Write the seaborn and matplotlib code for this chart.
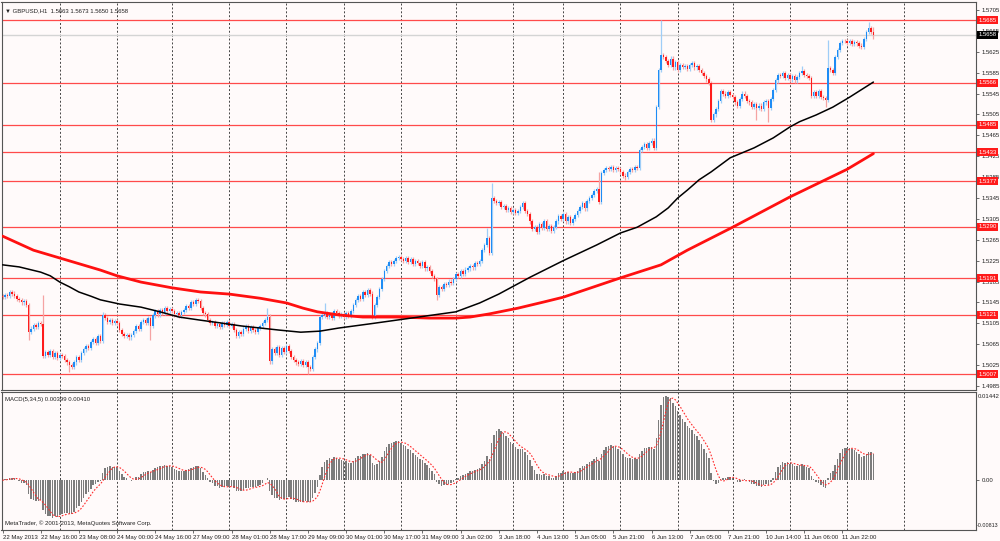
import numpy as np
import pandas as pd
import matplotlib
matplotlib.use("Agg")
import matplotlib.pyplot as plt
import seaborn as sns

# ---------------- data (prices in pips above 1.5000) ----------------
open0 = 158
closes_22may = [155, 160, 158, 165, 162, 158, 152, 150, 145, 148, 140, 88,
                95, 102, 98, 105, 103, 42, 50, 45, 52, 40, 48, 38, 45, 42,
                35, 30, 25, 22, 30, 40, 35, 48, 55, 62, 58, 70, 75, 68, 80, 72]
closes_23may = [121, 115, 108, 112, 105, 110, 106, 92, 85, 80, 83, 78, 82,
                90, 100, 95, 108, 112, 105, 115, 100, 120, 128, 122, 130, 125,
                135, 128, 132]
closes_24may = [128, 122, 125, 120, 126, 130, 138, 135, 145, 142, 150, 148,
                135, 125, 122, 112, 105, 108, 100, 104, 98, 106, 102, 108, 100,
                104, 92, 80, 88, 85, 95, 100, 90, 98, 92, 88, 96, 100, 105,
                112, 118, 32, 55, 48, 60, 45, 58, 50, 62, 52, 40, 35, 30, 28,
                32, 25, 30, 22, 18, 40, 55, 68, 117, 120, 125, 118, 122, 115,
                128, 124, 120]
closes_29may = [122, 118, 125, 120, 128, 140, 150, 158, 152, 165, 160, 168,
                162, 117, 140, 155, 170, 190, 205, 215, 222, 218, 225, 230,
                232, 228, 225, 230, 222, 228, 218, 224, 220, 215, 222, 210,
                212, 205, 195, 190, 160, 175, 170, 180, 178, 185, 182, 190,
                200, 195, 205, 200, 208, 210, 215, 212, 220, 218, 225, 245,
                255, 268, 240]
closes_3jun = [345, 340, 335, 338, 328, 330, 322, 325, 318, 322, 316, 320,
               328, 335, 320, 315, 300, 285, 290, 280, 295, 288, 300, 285,
               292, 282, 290, 300, 310, 305, 315, 300, 308, 298, 305, 312,
               320, 328, 335, 325, 340, 345, 350, 358, 362, 338]
closes_5jun = [393, 398, 402, 400, 404, 398, 402, 400, 395, 388, 385, 395,
               400, 398, 405, 402, 437, 442, 448, 440, 450, 455, 440, 519,
               590, 619, 615, 608, 600, 612, 595, 605, 590, 600, 596, 598,
               592, 600, 604, 595, 598, 590, 585, 578, 572, 565]
closes_7jun = [494, 505, 515, 530, 550, 545, 540, 548, 542, 538, 528, 522,
               535, 545, 540, 530, 528, 520, 525, 518, 522, 515, 528, 530,
               518, 535, 552, 570, 580, 578, 584, 575, 580, 572, 578, 570,
               576, 585, 588, 580, 578, 575, 540, 548, 540, 550, 538, 536,
               533, 594, 590, 584, 615, 628, 642, 646, 645, 642, 646, 640,
               644, 641, 637, 634, 650, 663, 670, 663, 658]

spike_highs = {17: 159, 42: 127, 111: 134, 135: 144, 203: 288, 205: 374,
               250: 395, 276: 685, 335: 598, 346: 647, 363: 682, 365: 673}
spike_lows = {11: 73, 28: 12, 62: 73, 98: 77, 128: 7, 182: 150, 261: 379,
              297: 490, 316: 494, 321: 491, 345: 519, 365: 650}

black_ma_bars = [0, 7, 16, 20, 24, 28, 32, 37, 41, 45, 49, 58, 66, 74, 83, 91,
                 100, 108, 116, 125, 133, 141, 154, 165, 179, 190, 200, 208,
                 221, 235, 249, 259, 266, 274, 279, 283, 287, 292, 297, 305,
                 315, 323, 330, 334, 341, 348, 355, 365]
black_ma_pips = [217, 213, 203, 196, 184, 175, 165, 157, 150, 146, 142, 136,
                 127, 117, 111, 106, 100, 96, 92, 88, 90, 96, 104, 111, 120,
                 127, 144, 161, 193, 225, 255, 278, 289, 309, 326, 345, 360,
                 380, 395, 422, 441, 460, 481, 491, 504, 519, 538, 567]
red_ma_bars = [0, 13, 27, 41, 48, 58, 71, 83, 95, 108, 119, 126, 132, 141,
               151, 165, 179, 190, 196, 204, 216, 227, 235, 259, 276, 287,
               306, 330, 354, 365]
red_ma_pips = [272, 245, 226, 207, 196, 184, 173, 165, 161, 153, 144, 134,
               127, 121, 117, 117, 115, 115, 117, 123, 134, 146, 155, 192,
               217, 245, 289, 347, 400, 430]

levels = [1.5685, 1.5566, 1.5485, 1.5433, 1.5377, 1.5290, 1.5191, 1.5121, 1.5007]
current_price = 1.5658

time_label_bars = list(range(0, 353, 16))
time_labels = ["22 May 2013", "22 May 16:00", "23 May 08:00", "24 May 00:00",
               "24 May 16:00", "27 May 09:00", "28 May 01:00", "28 May 17:00",
               "29 May 09:00", "30 May 01:00", "30 May 17:00", "31 May 09:00",
               "3 Jun 02:00", "3 Jun 18:00", "4 Jun 13:00", "5 Jun 05:00",
               "5 Jun 21:00", "6 Jun 13:00", "7 Jun 05:00", "7 Jun 21:00",
               "10 Jun 14:00", "11 Jun 06:00", "11 Jun 22:00"]
day_grid_bars = [24, 48, 71, 95, 119, 143, 167, 190, 214, 235, 259, 283, 306,
                 330, 354, 378]
price_ticks = [1.4985 + 0.004 * k for k in range(19)]
macd_top, macd_bottom = 0.01442, -0.00813

# ---------------- derived ----------------
pip = 1e-4
closes_pips = (closes_22may + closes_23may + closes_24may + closes_29may +
               closes_3jun + closes_5jun + closes_7jun)
closes = 1.5 + np.array(closes_pips) * pip
n = len(closes)
idx = np.arange(n)
opens = np.r_[1.5 + open0 * pip, closes[:-1]]
wick = 4 * pip
hi = np.maximum(opens, closes) + wick
lo = np.minimum(opens, closes) - wick
for k, v in spike_highs.items():
    if k < n:
        hi[k] = max(1.5 + v * pip, max(opens[k], closes[k]))
for k, v in spike_lows.items():
    if k < n:
        lo[k] = min(1.5 + v * pip, min(opens[k], closes[k]))
up = closes >= opens

s = pd.Series(closes)
macd = (s.ewm(span=5, adjust=False).mean() - s.ewm(span=34, adjust=False).mean()).values
signal = pd.Series(macd).rolling(5, min_periods=1).mean().values

# ---------------- style ----------------
sns.set_theme(style="white")
bg = "#fffafa"
plt.rcParams["font.family"] = ["Liberation Sans", "DejaVu Sans"]
plt.rcParams["axes.edgecolor"] = "#555555"
plt.rcParams["axes.linewidth"] = 0.8

fig = plt.figure(figsize=(10, 5.41), dpi=100, facecolor=bg)
W, H = 1000.0, 541.0
left, right = 1.5 / W, 976 / W
ax = fig.add_axes([left, 1 - 390 / H, right - left, 388 / H], facecolor=bg)
ax2 = fig.add_axes([left, 1 - 530 / H, right - left, 138 / H], facecolor=bg)

xlim = (-0.42, 408)
fs = 4.3
tcol = "#222222"

# --- main panel ---
for b in day_grid_bars:
    ax.axvline(b, color="#444444", lw=0.7, ls=(0, (2, 2)), zorder=0.5)
    ax2.axvline(b, color="#444444", lw=0.7, ls=(0, (2, 2)), zorder=0.5)

ax.axhline(current_price, color="#d4d4d4", lw=1.0, zorder=0.8)
for lv in levels:
    ax.axhline(lv, color="#ff4a4a", lw=0.9, zorder=0.9)

wick_col = np.where(up, "#9fcdf7", "#f5a3a3")
ax.vlines(idx, lo, hi, colors=wick_col, lw=0.9, zorder=2)
body_h = np.maximum(np.abs(closes - opens), 0.6 * pip)
body_b = np.minimum(opens, closes)
ax.bar(idx, body_h, bottom=body_b, width=0.62,
       color=np.where(up, "#1e8cf5", "#ff1c1c"), linewidth=0, zorder=3)

sns.lineplot(x=red_ma_bars, y=1.5 + np.array(red_ma_pips) * pip, ax=ax,
             color="#ff1010", lw=2.0, zorder=4)
sns.lineplot(x=black_ma_bars, y=1.5 + np.array(black_ma_pips) * pip, ax=ax,
             color="black", lw=1.1, zorder=4)

ax.set_xlim(*xlim)
ax.set_ylim(1.5705 - 380 * 0.0001915, 1.5705 + 8 * 0.0001915)
ax.set_xticks([])
ax.yaxis.tick_right()
ax.set_yticks(price_ticks)
ax.set_yticklabels([f"{t:.4f}" for t in price_ticks])
ax.tick_params(axis="y", labelsize=fs, length=2.5, width=0.6, pad=1.5,
               colors="#555555", labelcolor=tcol, right=True)
ax.set_xlabel("")
ax.set_ylabel("")

ytr = ax.get_yaxis_transform()
for lv in levels:
    ax.text(1.0025, lv, f"{lv:.4f}", transform=ytr, ha="left", va="center",
            fontsize=fs, color="white", zorder=10, clip_on=False,
            bbox=dict(boxstyle="square,pad=0.25", fc="#ff1a1a", ec="none"))
ax.text(1.0025, current_price, f"{current_price:.4f}", transform=ytr, ha="left",
        va="center", fontsize=fs, color="white", zorder=10, clip_on=False,
        bbox=dict(boxstyle="square,pad=0.25", fc="black", ec="none"))

ax.text(0.004, 0.985, "\u25bc GBPUSD,H1  1.5663 1.5673 1.5650 1.5658",
        transform=ax.transAxes, ha="left", va="top", fontsize=fs, color=tcol)

# --- MACD panel ---
ax2.bar(idx, macd, width=0.62, color="#7c7c7c", linewidth=0, zorder=2)
sns.lineplot(x=idx, y=signal, ax=ax2, color="#ff2a2a", lw=0.8,
             ls=(0, (1.5, 1.5)), zorder=3)
ax2.set_xlim(*xlim)
ax2.set_ylim(macd_bottom, macd_top)
ax2.yaxis.tick_right()
ax2.set_yticks([0.0])
ax2.set_yticklabels(["0.00"])
ax2.tick_params(axis="y", labelsize=fs, length=2.5, width=0.6, pad=1.5,
                colors="#555555", labelcolor=tcol, right=True)
ax2.text(1.002, 0.985, f"{macd_top:.5f}", transform=ax2.transAxes, ha="left",
         va="top", fontsize=fs, color=tcol, clip_on=False)
ax2.text(1.001, 0.015, f"{macd_bottom:.5f}", transform=ax2.transAxes, ha="left",
         va="bottom", fontsize=3.9, color=tcol, clip_on=False)
ax2.set_xticks(time_label_bars)
ax2.set_xticklabels(time_labels, ha="left")
ax2.tick_params(axis="x", labelsize=fs, length=2.5, width=0.6, pad=1.0,
                colors="#555555", labelcolor=tcol, bottom=True)
ax2.set_xlabel("")
ax2.set_ylabel("")
ax2.text(0.004, 0.965, "MACD(5,34,5) 0.00399 0.00410", transform=ax2.transAxes,
         ha="left", va="top", fontsize=fs, color=tcol)
ax2.text(0.004, 0.03, "MetaTrader, \u00a9 2001-2013, MetaQuotes Software Corp.",
         transform=ax2.transAxes, ha="left", va="bottom", fontsize=fs, color=tcol)

fig.savefig("out.png", dpi=100, facecolor=bg)
